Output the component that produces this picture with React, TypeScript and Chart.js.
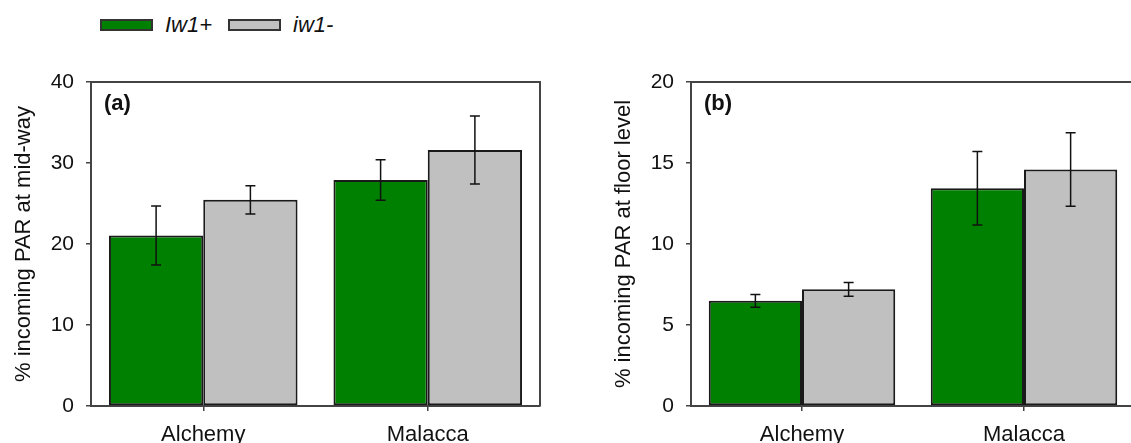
import React, { useEffect, useRef } from "react";
import { Chart, registerables } from "chart.js";

Chart.register(...registerables);

// Categories and series
const categories = ["Alchemy", "Malacca"];
const seriesNames = ["Iw1+", "iw1-"];
const seriesColors = ["#008000", "#c0c0c0"];

// (a) % incoming PAR at mid-way
const midwayPlus = [21.05, 27.9];
const midwayPlusErr = [3.65, 2.5];
const midwayMinus = [25.45, 31.6];
const midwayMinusErr = [1.75, 4.2];
const midwayTicks = [0, 10, 20, 30, 40];

// (b) % incoming PAR at floor level
const floorPlus = [6.49, 13.44];
const floorPlusErr = [0.4, 2.27];
const floorMinus = [7.2, 14.6];
const floorMinusErr = [0.43, 2.27];
const floorTicks = [0, 5, 10, 15, 20];

const FONT = "'Liberation Sans', Arial, sans-serif";
const AXIS_COLOR = "#444";

// Error bars with caps, drawn on top of the bars
const errorBarPlugin = {
  id: "errorBars",
  afterDatasetsDraw(chart: any) {
    const { ctx } = chart;
    const y = chart.scales.y;
    chart.data.datasets.forEach((ds: any, di: number) => {
      const meta = chart.getDatasetMeta(di);
      if (!ds.errors) return;
      meta.data.forEach((bar: any, i: number) => {
        const v = ds.data[i];
        const e = ds.errors[i];
        const x = bar.x;
        const yTop = y.getPixelForValue(v + e);
        const yBot = y.getPixelForValue(v - e);
        ctx.save();
        ctx.strokeStyle = "#111";
        ctx.lineWidth = 1.5;
        ctx.beginPath();
        ctx.moveTo(x, yTop);
        ctx.lineTo(x, yBot);
        ctx.moveTo(x - 5, yTop);
        ctx.lineTo(x + 5, yTop);
        ctx.moveTo(x - 5, yBot);
        ctx.lineTo(x + 5, yBot);
        ctx.stroke();
        ctx.restore();
      });
    });
  },
};

// Top and right edges of the plot frame, plus the panel letter
const framePlugin = {
  id: "frame",
  afterDraw(chart: any, _args: any, opts: any) {
    const { ctx, chartArea } = chart;
    ctx.save();
    ctx.strokeStyle = AXIS_COLOR;
    ctx.lineWidth = 2;
    ctx.beginPath();
    ctx.moveTo(chartArea.left, chartArea.top);
    ctx.lineTo(chartArea.right, chartArea.top);
    ctx.lineTo(chartArea.right, chartArea.bottom);
    ctx.stroke();
    if (opts && opts.letter) {
      ctx.fillStyle = "#111";
      ctx.font = `bold 22px ${FONT}`;
      ctx.textAlign = "left";
      ctx.textBaseline = "middle";
      ctx.fillText(opts.letter, chartArea.left + 13, chartArea.top + 22);
    }
    ctx.restore();
  },
};

type PanelProps = {
  left: number;
  width: number;
  padRight: number;
  plus: number[];
  plusErr: number[];
  minus: number[];
  minusErr: number[];
  ticks: number[];
  title: string;
  letter: string;
};

function Panel(p: PanelProps) {
  const ref = useRef<HTMLCanvasElement | null>(null);
  useEffect(() => {
    if (!ref.current) return;
    const yMax = p.ticks[p.ticks.length - 1];
    const chart = new Chart(ref.current, {
      type: "bar",
      data: {
        labels: categories,
        datasets: [
          {
            label: seriesNames[0],
            data: p.plus,
            errors: p.plusErr,
            backgroundColor: seriesColors[0],
            borderColor: "#1a1a1a",
            borderWidth: 2,
            borderSkipped: false,
          } as any,
          {
            label: seriesNames[1],
            data: p.minus,
            errors: p.minusErr,
            backgroundColor: seriesColors[1],
            borderColor: "#1a1a1a",
            borderWidth: 2,
            borderSkipped: false,
          } as any,
        ],
      },
      options: {
        animation: false,
        responsive: false,
        maintainAspectRatio: false,
        datasets: { bar: { barPercentage: 1, categoryPercentage: 0.84 } },
        layout: { padding: { left: 0, right: p.padRight, top: 82, bottom: 0 } },
        plugins: {
          legend: { display: false },
          tooltip: { enabled: false },
          frame: { letter: p.letter },
        } as any,
        scales: {
          x: {
            afterFit: (s: any) => {
              s.height = 37;
            },
            grid: {
              offset: false,
              drawOnChartArea: false,
              drawTicks: true,
              tickLength: 5,
              color: AXIS_COLOR,
              lineWidth: 1.5,
            },
            border: { color: AXIS_COLOR, width: 2 },
            ticks: {
              color: "#111",
              font: { family: FONT, size: 22 },
              padding: 11,
              maxRotation: 0,
            },
          },
          y: {
            min: 0,
            max: yMax,
            afterFit: (s: any) => {
              s.width = 91;
            },
            afterBuildTicks: (s: any) => {
              s.ticks = p.ticks.map((v) => ({ value: v }));
            },
            grid: {
              drawOnChartArea: false,
              drawTicks: true,
              tickLength: 5,
              color: AXIS_COLOR,
              lineWidth: 1.5,
            },
            border: { color: AXIS_COLOR, width: 2 },
            ticks: {
              color: "#111",
              font: { family: FONT, size: 21 },
              padding: 12,
            },
            title: {
              display: true,
              text: p.title,
              color: "#111",
              font: { family: FONT, size: 22 },
              padding: { top: 11, bottom: 0 },
            },
          },
        },
      } as any,
      plugins: [errorBarPlugin, framePlugin],
    });
    return () => chart.destroy();
  }, []);
  return (
    <canvas
      ref={ref}
      width={p.width}
      height={443}
      style={{ position: "absolute", left: p.left, top: 0, width: p.width, height: 443 }}
    />
  );
}

function LegendItem({ left, textLeft, color, label }: { left: number; textLeft: number; color: string; label: string }) {
  return (
    <>
      <div
        style={{
          position: "absolute",
          left,
          top: 19,
          width: 53,
          height: 12,
          boxSizing: "border-box",
          border: "2px solid #333",
          background: color,
        }}
      />
      <div
        style={{
          position: "absolute",
          left: textLeft,
          top: 12,
          height: 26,
          lineHeight: "26px",
          fontFamily: FONT,
          fontStyle: "italic",
          fontSize: 22,
          color: "#111",
          whiteSpace: "nowrap",
        }}
      >
        {label}
      </div>
    </>
  );
}

export default function App() {
  return (
    <div
      style={{
        position: "fixed",
        left: 0,
        top: 0,
        width: 1131,
        height: 443,
        overflow: "hidden",
        background: "#fff",
      }}
    >
      <LegendItem left={100} textLeft={165} color={seriesColors[0]} label={seriesNames[0]} />
      <LegendItem left={228} textLeft={293} color={seriesColors[1]} label={seriesNames[1]} />
      <Panel
        left={0}
        width={560}
        padRight={20}
        plus={midwayPlus}
        plusErr={midwayPlusErr}
        minus={midwayMinus}
        minusErr={midwayMinusErr}
        ticks={midwayTicks}
        title="% incoming PAR at mid-way"
        letter="(a)"
      />
      <Panel
        left={600}
        width={545}
        padRight={10}
        plus={floorPlus}
        plusErr={floorPlusErr}
        minus={floorMinus}
        minusErr={floorMinusErr}
        ticks={floorTicks}
        title="% incoming PAR at floor level"
        letter="(b)"
      />
    </div>
  );
}
